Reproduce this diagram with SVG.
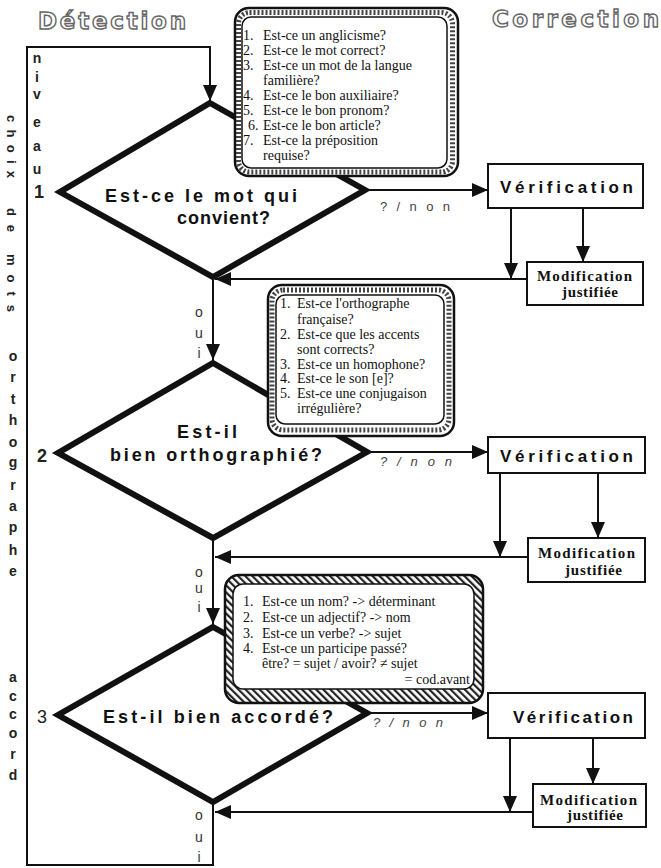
<svg xmlns="http://www.w3.org/2000/svg" width="661" height="868" viewBox="0 0 661 868">
<style>
.dia{fill:#fff;stroke:#111;stroke-width:6;stroke-linejoin:miter;stroke-miterlimit:10}
.ln{fill:none;stroke:#111;stroke-width:2}
.bx{fill:#fff;stroke:#111;stroke-width:2}
.outer{fill:#fff;stroke:#111;stroke-width:2.5}
.band{fill:none;stroke:#444;stroke-width:5;stroke-dasharray:2 2}
.inner{fill:#fff;stroke:#111;stroke-width:1.5}
.dt{font-family:"Liberation Sans",Arial,sans-serif;font-weight:bold;font-size:18px;fill:#111}
.vt{font-family:"Liberation Sans",Arial,sans-serif;font-weight:bold;font-size:17px;fill:#111}
.mt{font-family:"Liberation Serif","Times New Roman",serif;font-weight:bold;font-size:15px;fill:#111}
.q{font-family:"Liberation Serif","Times New Roman",serif;font-size:14px;fill:#111}
.lab{font-family:"Liberation Sans",Arial,sans-serif;font-size:13px;fill:#444}
.col{font-family:"Liberation Sans",Arial,sans-serif;font-weight:bold;font-size:14px;fill:#222;text-anchor:middle}
.num{font-family:"Liberation Sans",Arial,sans-serif;font-weight:bold;font-size:18px;fill:#222}
.oui{font-family:"Liberation Sans",Arial,sans-serif;font-size:14px;fill:#333;text-anchor:middle}
.title{font-family:"DejaVu Sans",sans-serif;font-weight:bold;font-size:23px;fill:#fff;stroke:#666;stroke-width:1.4}
</style>
<defs>
<marker id="ah" markerUnits="userSpaceOnUse" markerWidth="16" markerHeight="14" refX="16" refY="7" orient="auto">
<path d="M0,0 L16,7 L0,14 z" fill="#111"/>
</marker>
<pattern id="diag" width="5" height="5" patternUnits="userSpaceOnUse" patternTransform="rotate(-45)">
<rect width="5" height="5" fill="#fff"/>
<rect width="2.2" height="5" fill="#222"/>
</pattern>
</defs>
<rect width="661" height="868" fill="#fff"/>

<g id="titles">
<text class="title" x="38" y="29" textLength="148" lengthAdjust="spacing">Détection</text>
<text class="title" x="492" y="27" textLength="167" lengthAdjust="spacing">Correction</text>
</g>

<g id="side-labels">
<text class="col" x="37" y="63">n</text>
<text class="col" x="37" y="82">i</text>
<text class="col" x="37" y="99">v</text>
<text class="col" x="37" y="127">e</text>
<text class="col" x="37" y="151">a</text>
<text class="col" x="37" y="174">u</text>
<text class="num" x="34" y="198">1</text>
<text class="num" x="37" y="462">2</text>
<text class="num" x="37" y="723" style="font-weight:normal">3</text>
<g style="font-family:'Liberation Sans',Arial,sans-serif;font-weight:bold;font-size:13px;fill:#222">
<text transform="translate(7,115) rotate(90)" textLength="63" lengthAdjust="spacing">choix</text>
<text transform="translate(7,208) rotate(90)" textLength="24" lengthAdjust="spacing">de</text>
<text transform="translate(7,254) rotate(90)" textLength="58" lengthAdjust="spacing">mots</text>
</g>
<text class="col" x="13" y="361">o</text>
<text class="col" x="13" y="382">r</text>
<text class="col" x="13" y="404">t</text>
<text class="col" x="13" y="425">h</text>
<text class="col" x="13" y="447">o</text>
<text class="col" x="13" y="467">g</text>
<text class="col" x="13" y="490">r</text>
<text class="col" x="13" y="511">a</text>
<text class="col" x="13" y="532">p</text>
<text class="col" x="13" y="555">h</text>
<text class="col" x="13" y="576">e</text>
<text class="col" x="13" y="682">a</text>
<text class="col" x="13" y="701">c</text>
<text class="col" x="13" y="719">c</text>
<text class="col" x="13" y="738">o</text>
<text class="col" x="13" y="759">r</text>
<text class="col" x="13" y="780">d</text>
</g>

<g id="connectors">
<path class="ln" d="M213,802 V865 H27 V47 H210 V101" marker-end="url(#ah)"/>
<line class="ln" x1="368" y1="190" x2="488" y2="190" marker-end="url(#ah)"/>
<line class="ln" x1="511" y1="208" x2="511" y2="279" marker-end="url(#ah)"/>
<line class="ln" x1="583" y1="208" x2="583" y2="262" marker-end="url(#ah)"/>
<line class="ln" x1="527" y1="279" x2="215" y2="279" marker-end="url(#ah)"/>
<line class="ln" x1="213" y1="280" x2="213" y2="360" marker-end="url(#ah)"/>
<line class="ln" x1="370" y1="452" x2="488" y2="452" marker-end="url(#ah)"/>
<line class="ln" x1="500" y1="473" x2="500" y2="557" marker-end="url(#ah)"/>
<line class="ln" x1="598" y1="473" x2="598" y2="538" marker-end="url(#ah)"/>
<line class="ln" x1="528" y1="557" x2="215" y2="557" marker-end="url(#ah)"/>
<line class="ln" x1="213" y1="541" x2="213" y2="624" marker-end="url(#ah)"/>
<line class="ln" x1="370" y1="713" x2="488" y2="713" marker-end="url(#ah)"/>
<line class="ln" x1="510" y1="738" x2="510" y2="812" marker-end="url(#ah)"/>
<line class="ln" x1="593" y1="738" x2="593" y2="784" marker-end="url(#ah)"/>
<line class="ln" x1="533" y1="812" x2="215" y2="812" marker-end="url(#ah)"/>
<text class="lab" x="380" y="211" textLength="70" lengthAdjust="spacing">?/non</text>
<text class="lab" x="380" y="466" textLength="72" lengthAdjust="spacing" font-style="italic">?/non</text>
<text class="lab" x="373" y="727" textLength="70" lengthAdjust="spacing" font-style="italic">?/non</text>
<text class="oui" x="199" y="317">o</text>
<text class="oui" x="199" y="338">u</text>
<text class="oui" x="199" y="358">i</text>
<text class="oui" x="199" y="577">o</text>
<text class="oui" x="199" y="593">u</text>
<text class="oui" x="199" y="612">i</text>
<text class="oui" x="199" y="820">o</text>
<text class="oui" x="199" y="842">u</text>
<text class="oui" x="199" y="862">i</text>
</g>

<g id="decision1">
<polygon class="dia" points="210,103 365,190 213,277 60,192"/>
<text class="dt" x="105" y="202" textLength="192" lengthAdjust="spacing">Est-ce le mot qui</text>
<text class="dt" x="177" y="224" textLength="93" lengthAdjust="spacing">convient?</text>
</g>
<g id="decision2">
<polygon class="dia" points="213,363 367,452 213,538 58,453"/>
<text class="dt" x="177" y="438" textLength="60" lengthAdjust="spacing">Est-il</text>
<text class="dt" x="110" y="461" textLength="212" lengthAdjust="spacing">bien   orthographié?</text>
</g>
<g id="decision3">
<polygon class="dia" points="213,627 367,713 213,802 58,715"/>
<text class="dt" x="103" y="723" textLength="230" lengthAdjust="spacing">Est-il   bien   accordé?</text>
</g>

<g id="questions1">
<rect class="outer" x="235" y="8" width="223" height="168" rx="14"/>
<rect class="band" x="238.5" y="12.5" width="214" height="159.5" rx="11"/>
<rect class="inner" x="242" y="17" width="205" height="151" rx="9"/>
<text class="q" x="243" y="40">1.</text><text class="q" x="263" y="40">Est-ce un anglicisme?</text>
<text class="q" x="243" y="55">2.</text><text class="q" x="263" y="55">Est-ce le mot correct?</text>
<text class="q" x="243" y="70">3.</text><text class="q" x="263" y="70">Est-ce un mot de la langue</text>
<text class="q" x="263" y="85">familière?</text>
<text class="q" x="243" y="100">4.</text><text class="q" x="263" y="100">Est-ce le bon auxiliaire?</text>
<text class="q" x="243" y="115">5.</text><text class="q" x="263" y="115">Est-ce le bon pronom?</text>
<text class="q" x="248" y="130">6.</text><text class="q" x="263" y="130">Est-ce le bon article?</text>
<text class="q" x="243" y="145">7.</text><text class="q" x="263" y="145">Est-ce la préposition</text>
<text class="q" x="263" y="160">requise?</text>
</g>

<g id="questions2">
<rect class="outer" x="268" y="285" width="186" height="151" rx="14"/>
<rect class="band" x="272" y="290" width="177" height="140" rx="11"/>
<rect class="inner" x="276" y="295" width="168" height="129" rx="9"/>
<text class="q" x="280" y="308">1.</text><text class="q" x="297" y="308">Est-ce l'orthographe</text>
<text class="q" x="297" y="324">française?</text>
<text class="q" x="280" y="339">2.</text><text class="q" x="297" y="339">Est-ce que les accents</text>
<text class="q" x="297" y="354">sont corrects?</text>
<text class="q" x="280" y="369">3.</text><text class="q" x="297" y="369">Est-ce un homophone?</text>
<text class="q" x="280" y="383">4.</text><text class="q" x="297" y="383">Est-ce le son [e]?</text>
<text class="q" x="280" y="398">5.</text><text class="q" x="297" y="398">Est-ce une conjugaison</text>
<text class="q" x="297" y="413">irrégulière?</text>
</g>

<g id="questions3">
<rect x="225" y="575" width="258" height="128" rx="14" fill="url(#diag)" stroke="#111" stroke-width="2.5"/>
<rect class="inner" x="233" y="584" width="241" height="105" rx="10"/>
<text class="q" x="243" y="606">1.</text><text class="q" x="262" y="606">Est-ce un nom? -&gt; déterminant</text>
<text class="q" x="243" y="622">2.</text><text class="q" x="262" y="622">Est-ce un adjectif? -&gt; nom</text>
<text class="q" x="243" y="638">3.</text><text class="q" x="262" y="638">Est-ce un verbe? -&gt; sujet</text>
<text class="q" x="243" y="653">4.</text><text class="q" x="262" y="653">Est-ce un participe passé?</text>
<text class="q" x="262" y="668">être? = sujet / avoir? ≠ sujet</text>
<text class="q" x="470" y="684" text-anchor="end">= cod.avant</text>
</g>

<g id="verif1">
<rect class="bx" x="488" y="164" width="155" height="44"/>
<text class="vt" x="500" y="193" textLength="133" lengthAdjust="spacing">Vérification</text>
</g>
<g id="modif1">
<rect class="bx" x="527" y="262" width="116" height="43"/>
<text class="mt" x="537" y="281" textLength="95" lengthAdjust="spacing">Modification</text>
<text class="mt" x="562" y="297" textLength="56" lengthAdjust="spacing">justifiée</text>
</g>
<g id="verif2">
<rect class="bx" x="488" y="437" width="157" height="36"/>
<text class="vt" x="500" y="462" textLength="133" lengthAdjust="spacing">Vérification</text>
</g>
<g id="modif2">
<rect class="bx" x="528" y="538" width="117" height="44"/>
<text class="mt" x="538" y="558" textLength="97" lengthAdjust="spacing">Modification</text>
<text class="mt" x="565" y="575" textLength="57" lengthAdjust="spacing">justifiée</text>
</g>
<g id="verif3">
<rect class="bx" x="488" y="693" width="157" height="45"/>
<text class="vt" x="513" y="723" textLength="120" lengthAdjust="spacing">Vérification</text>
</g>
<g id="modif3">
<rect class="bx" x="533" y="784" width="113" height="43"/>
<text class="mt" x="540" y="805" textLength="97" lengthAdjust="spacing">Modification</text>
<text class="mt" x="567" y="820" textLength="56" lengthAdjust="spacing">justifiée</text>
</g>
</svg>
